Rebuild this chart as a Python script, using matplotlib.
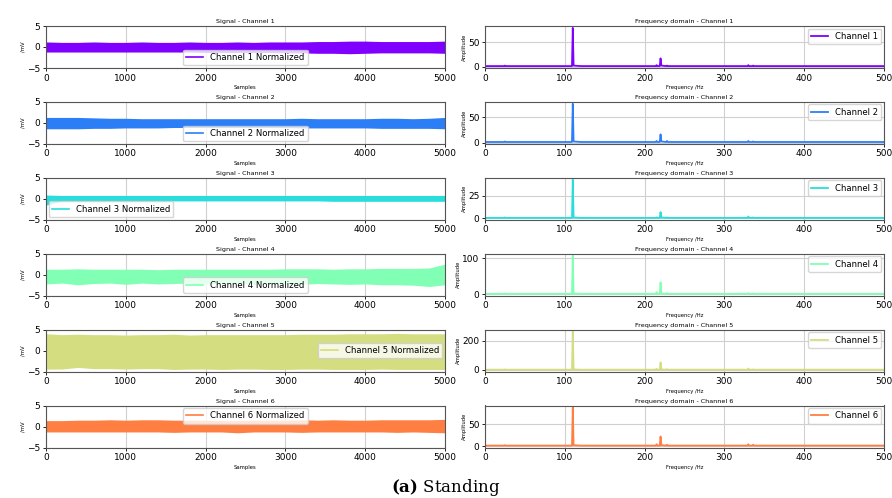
import numpy as np
import matplotlib
matplotlib.use("Agg")
import matplotlib.pyplot as plt
from matplotlib.lines import Line2D

plt.rcParams["mathtext.fontset"] = "dejavuserif"

# ---------------- data ----------------
channels = ["Channel 1", "Channel 2", "Channel 3", "Channel 4", "Channel 5", "Channel 6"]

# signal envelope, sampled every 200 samples (0..5000)
env_samples = list(range(0, 5001, 200))
sig_upper = [
    [1.2, 1.1, 1.1, 1.2, 1.1, 1.1, 1.2, 1.1, 1.1, 1.2, 1.1, 1.1, 1.2, 1.1, 1.2, 1.2, 1.2, 1.3, 1.3, 1.4, 1.4, 1.3, 1.3, 1.3, 1.3, 1.4],
    [1.3, 1.3, 1.3, 1.2, 1.1, 1.1, 1.0, 1.0, 1.0, 1.0, 1.0, 1.0, 1.0, 1.0, 1.0, 1.0, 1.1, 1.0, 1.0, 1.0, 1.0, 1.1, 1.1, 1.0, 1.1, 1.3],
    [0.9, 0.8, 0.8, 0.8, 0.8, 0.8, 0.8, 0.8, 0.8, 0.8, 0.8, 0.8, 0.8, 0.8, 0.8, 0.8, 0.8, 0.8, 0.8, 0.8, 0.8, 0.8, 0.8, 0.8, 0.8, 0.8],
    [1.3, 1.3, 1.4, 1.3, 1.3, 1.3, 1.3, 1.2, 1.3, 1.3, 1.3, 1.3, 1.3, 1.3, 1.3, 1.4, 1.4, 1.4, 1.3, 1.4, 1.4, 1.5, 1.5, 1.5, 1.6, 2.5],
    [4.0, 3.8, 3.9, 3.8, 3.8, 3.7, 3.8, 3.8, 3.9, 3.7, 3.8, 3.8, 3.8, 3.8, 3.8, 3.8, 3.9, 3.9, 3.9, 4.0, 4.0, 4.0, 4.1, 4.0, 4.0, 4.0],
    [1.4, 1.4, 1.5, 1.5, 1.6, 1.5, 1.6, 1.6, 1.5, 1.5, 1.5, 1.4, 1.4, 1.5, 1.5, 1.5, 1.6, 1.5, 1.6, 1.5, 1.5, 1.6, 1.6, 1.6, 1.6, 1.7],
]
sig_lower = [
    [-1.2, -1.2, -1.2, -1.2, -1.2, -1.2, -1.2, -1.2, -1.2, -1.2, -1.3, -1.3, -1.3, -1.3, -1.3, -1.4, -1.4, -1.5, -1.5, -1.6, -1.5, -1.4, -1.4, -1.4, -1.4, -1.5],
    [-1.4, -1.4, -1.4, -1.3, -1.3, -1.2, -1.2, -1.2, -1.1, -1.1, -1.1, -1.1, -1.1, -1.1, -1.1, -1.1, -1.2, -1.2, -1.2, -1.2, -1.2, -1.3, -1.3, -1.3, -1.3, -1.4],
    [-1.5, -0.5, -0.5, -0.5, -0.5, -0.5, -0.5, -0.5, -0.5, -0.5, -0.5, -0.5, -0.5, -0.5, -0.5, -0.5, -0.5, -0.5, -0.6, -0.6, -0.6, -0.6, -0.6, -0.6, -0.6, -0.6],
    [-2.2, -2.0, -2.4, -2.1, -2.0, -2.3, -2.0, -2.2, -2.1, -2.0, -2.2, -2.1, -2.0, -2.3, -2.1, -2.2, -2.3, -2.1, -2.2, -2.3, -2.2, -2.4, -2.4, -2.5, -2.8, -2.4],
    [-4.4, -4.4, -4.0, -4.3, -4.3, -4.4, -4.3, -4.3, -4.5, -4.4, -4.4, -4.5, -4.4, -4.4, -4.5, -4.5, -4.4, -4.4, -4.5, -4.5, -4.5, -4.4, -4.5, -4.5, -4.5, -4.5],
    [-1.3, -1.3, -1.3, -1.3, -1.3, -1.3, -1.3, -1.3, -1.4, -1.3, -1.3, -1.3, -1.5, -1.3, -1.3, -1.3, -1.4, -1.3, -1.3, -1.3, -1.3, -1.3, -1.4, -1.3, -1.4, -1.5],
]

# spectrum points (Hz) and amplitudes per channel
spec_freq = [0, 24, 25, 26, 109, 110, 111, 120, 214, 215, 216, 219, 220, 221, 227, 228, 229,
             329, 330, 331, 335, 336, 337, 500]
spec_amp = [
    [1, 1, 2, 1, 1, 80, 2, 1, 1, 3, 1, 1, 17, 2, 1, 2, 1, 1, 3, 1, 1, 2, 1, 1],
    [1, 1, 2, 1, 1, 76, 2, 1, 1, 3, 1, 1, 16, 2, 1, 3, 1, 1, 3, 1, 1, 2, 1, 1],
    [0.5, 0.5, 1, 0.5, 0.5, 43, 1, 0.5, 0.5, 1, 0.5, 0.5, 7, 1, 0.5, 1, 0.5, 0.5, 2, 0.5, 0.5, 1, 0.5, 0.5],
    [1, 1, 2, 1, 1, 108, 2, 1, 1, 6, 1, 1, 33, 2, 1, 3, 1, 1, 3, 1, 1, 2, 1, 1],
    [2, 2, 4, 2, 2, 262, 4, 2, 2, 8, 2, 2, 52, 4, 2, 5, 2, 2, 10, 2, 2, 4, 2, 2],
    [1, 1, 2, 1, 1, 89, 2, 1, 1, 4, 1, 1, 22, 2, 1, 3, 1, 1, 4, 1, 1, 3, 1, 1],
]
spec_yticks = [[0, 50], [0, 50], [0, 25], [0, 100], [0, 200], [0, 50]]
legend_locs = ["lower center", "lower center", "lower left", "lower center", "center right", "upper center"]

colors = [plt.cm.rainbow(i / 6) for i in range(6)]

# ---------------- figure ----------------
W, H = 892, 498
fig = plt.figure(figsize=(W / 100, H / 100), dpi=100)

tick_fs = 6.5
leg_fs = 6.1
title_fs = 4.6
label_fs = 3.8

for i in range(6):
    top = 26 + i * 75.9
    h = 42
    bottom = 1 - (top + h) / H
    axL = fig.add_axes([46 / W, bottom, 399 / W, h / H])
    axR = fig.add_axes([485 / W, bottom, 399 / W, h / H])

    c = colors[i]
    axL.fill_between(env_samples, sig_lower[i], sig_upper[i], color=c, lw=0)
    axL.set_xlim(0, 5000)
    axL.set_ylim(-5, 5)
    axL.set_yticks([-5, 0, 5])
    axL.set_xticks([0, 1000, 2000, 3000, 4000, 5000])
    axL.set_title(f"Signal - {channels[i]}", fontsize=title_fs, pad=2)
    axL.set_xlabel("Samples", fontsize=label_fs, labelpad=2)
    axL.set_ylabel("/mV", fontsize=label_fs, labelpad=1)
    axL.grid(True, color="#d0d0d0", lw=0.8)
    axL.set_axisbelow(True)
    handle = Line2D([], [], color=c, lw=1.2)
    axL.legend([handle], [f"{channels[i]} Normalized"], loc=legend_locs[i], fontsize=leg_fs,
               handlelength=2.0, borderpad=0.4, labelspacing=0.2, handletextpad=0.8,
               borderaxespad=0.3, framealpha=0.8)

    axR.plot(spec_freq, spec_amp[i], color=c, lw=1.3, label=channels[i])
    axR.set_xlim(0, 500)
    axR.set_xticks([0, 100, 200, 300, 400, 500])
    axR.set_yticks(spec_yticks[i])
    axR.set_title(f"Frequency domain - {channels[i]}", fontsize=title_fs, pad=2)
    axR.set_xlabel("Frequency /Hz", fontsize=label_fs, labelpad=2)
    axR.set_ylabel("Amplitude", fontsize=label_fs, labelpad=1)
    axR.grid(True, color="#d0d0d0", lw=0.8)
    axR.set_axisbelow(True)
    axR.legend(loc="upper right", fontsize=leg_fs, handlelength=2.0, borderpad=0.4,
               handletextpad=0.8, borderaxespad=0.3, framealpha=0.8)

    for ax in (axL, axR):
        ax.tick_params(labelsize=tick_fs, length=2.5, width=0.6, pad=1.5)
        for s in ax.spines.values():
            s.set_color("#555555")
            s.set_linewidth(0.8)

fig.text(0.5, 1 - 487 / H, r"$\mathbf{(a)}$ Standing", ha="center", va="center",
         fontsize=12, family="DejaVu Serif")

fig.savefig("out.png", dpi=100)
